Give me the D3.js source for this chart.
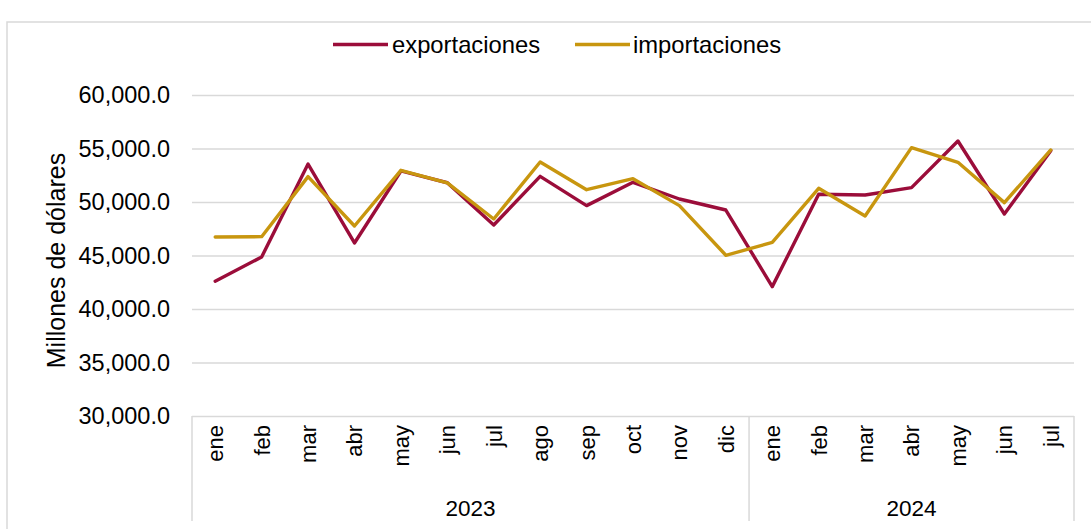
<!DOCTYPE html>
<html>
<head>
<meta charset="utf-8">
<script src="https://cdn.jsdelivr.net/npm/d3@7"></script>
<style>
  html, body { margin: 0; padding: 0; background: #fff; }
  svg { display: block; }
  text { font-family: "Liberation Sans", Arial, sans-serif; fill: #000; }
</style>
</head>
<body>
<div id="chart"></div>
<script>
// ---- data ----
const months = ["ene","feb","mar","abr","may","jun","jul","ago","sep","oct","nov","dic",
                "ene","feb","mar","abr","may","jun","jul"];
const years = ["2023","2024"];
const yearSpans = [[0, 11], [12, 18]];
const exportaciones = [42600, 44860, 53550, 46170, 52900, 51800, 47850, 52400, 49660, 51840, 50280, 49250,
                       42090, 50720, 50650, 51340, 55700, 48880, 54800];
const importaciones = [46730, 46760, 52370, 47760, 52960, 51780, 48410, 53740, 51150, 52180, 49660, 45020,
                       46230, 51280, 48690, 55080, 53710, 49940, 54860];
const yTicks = [30000, 35000, 40000, 45000, 50000, 55000, 60000];
const seriesNames = ["exportaciones", "importaciones"];
const seriesColors = ["#9b0d3a", "#c8960f"];

// ---- layout ----
const W = 1091, H = 529;
const pL = 192, pR = 1074, pT = 95, pB = 416;

const svg = d3.select("#chart").append("svg").attr("width", W).attr("height", H);

// outer frame
svg.append("rect").attr("x", 7).attr("y", 22).attr("width", 1095).attr("height", 600)
  .attr("fill", "#fff").attr("stroke", "#d9d9d9").attr("stroke-width", 1.5);

const x = d3.scaleBand().domain(d3.range(months.length)).range([pL, pR]).paddingInner(0).paddingOuter(0);
const y = d3.scaleLinear().domain([30000, 60000]).range([pB, pT]);

// gridlines + y axis
const yAxis = d3.axisLeft(y).tickValues(yTicks).tickFormat(d3.format(",.1f"))
  .tickSize(-(pR - pL)).tickPadding(22);
const gy = svg.append("g").attr("transform", `translate(${pL},0)`).call(yAxis);
gy.select(".domain").remove();
gy.selectAll(".tick line").attr("stroke", "#d9d9d9").attr("stroke-width", 1.5);
gy.selectAll(".tick text").attr("font-size", 23.5).attr("font-family", "Liberation Sans, Arial, sans-serif")
  .attr("fill", "#000");

// y label
svg.append("text").attr("transform", `translate(65,${(pT + pB) / 2 + 5}) rotate(-90)`)
  .attr("text-anchor", "middle").attr("font-size", 25).text("Millones de dólares");

// category axis separators
const sepColor = "#d9d9d9";
const bounds = [x(0), x(12), x(months.length - 1) + x.bandwidth()];
bounds.forEach(b => {
  svg.append("line").attr("x1", b).attr("x2", b).attr("y1", pB).attr("y2", 521)
    .attr("stroke", sepColor).attr("stroke-width", 1.5);
});

// month labels
svg.append("g").selectAll("text").data(months).join("text")
  .attr("transform", (d, i) => `translate(${x(i) + x.bandwidth() / 2},425) rotate(-90)`)
  .attr("text-anchor", "end").attr("dy", "0.36em").attr("font-size", 22).text(d => d);

// year labels
svg.append("g").selectAll("text").data(years).join("text")
  .attr("x", (d, i) => (x(yearSpans[i][0]) + x(yearSpans[i][1]) + x.bandwidth()) / 2)
  .attr("y", 516).attr("text-anchor", "middle").attr("font-size", 22.5).text(d => d);

// lines
const line = d3.line().x((d, i) => x(i) + x.bandwidth() / 2).y(d => y(d));
[exportaciones, importaciones].forEach((s, k) => {
  svg.append("path").datum(s).attr("d", line).attr("fill", "none")
    .attr("stroke", seriesColors[k]).attr("stroke-width", 3.4)
    .attr("stroke-linejoin", "round").attr("stroke-linecap", "round");
});

// legend
const legendItems = [{lx: 333, tx: 392}, {lx: 575, tx: 633}];
legendItems.forEach((li, k) => {
  svg.append("line").attr("x1", li.lx).attr("x2", li.lx + 55).attr("y1", 44.5).attr("y2", 44.5)
    .attr("stroke", seriesColors[k]).attr("stroke-width", 3.4);
  svg.append("text").attr("x", li.tx).attr("y", 52.5).attr("font-size", 23.8).text(seriesNames[k]);
});
</script>
</body>
</html>
